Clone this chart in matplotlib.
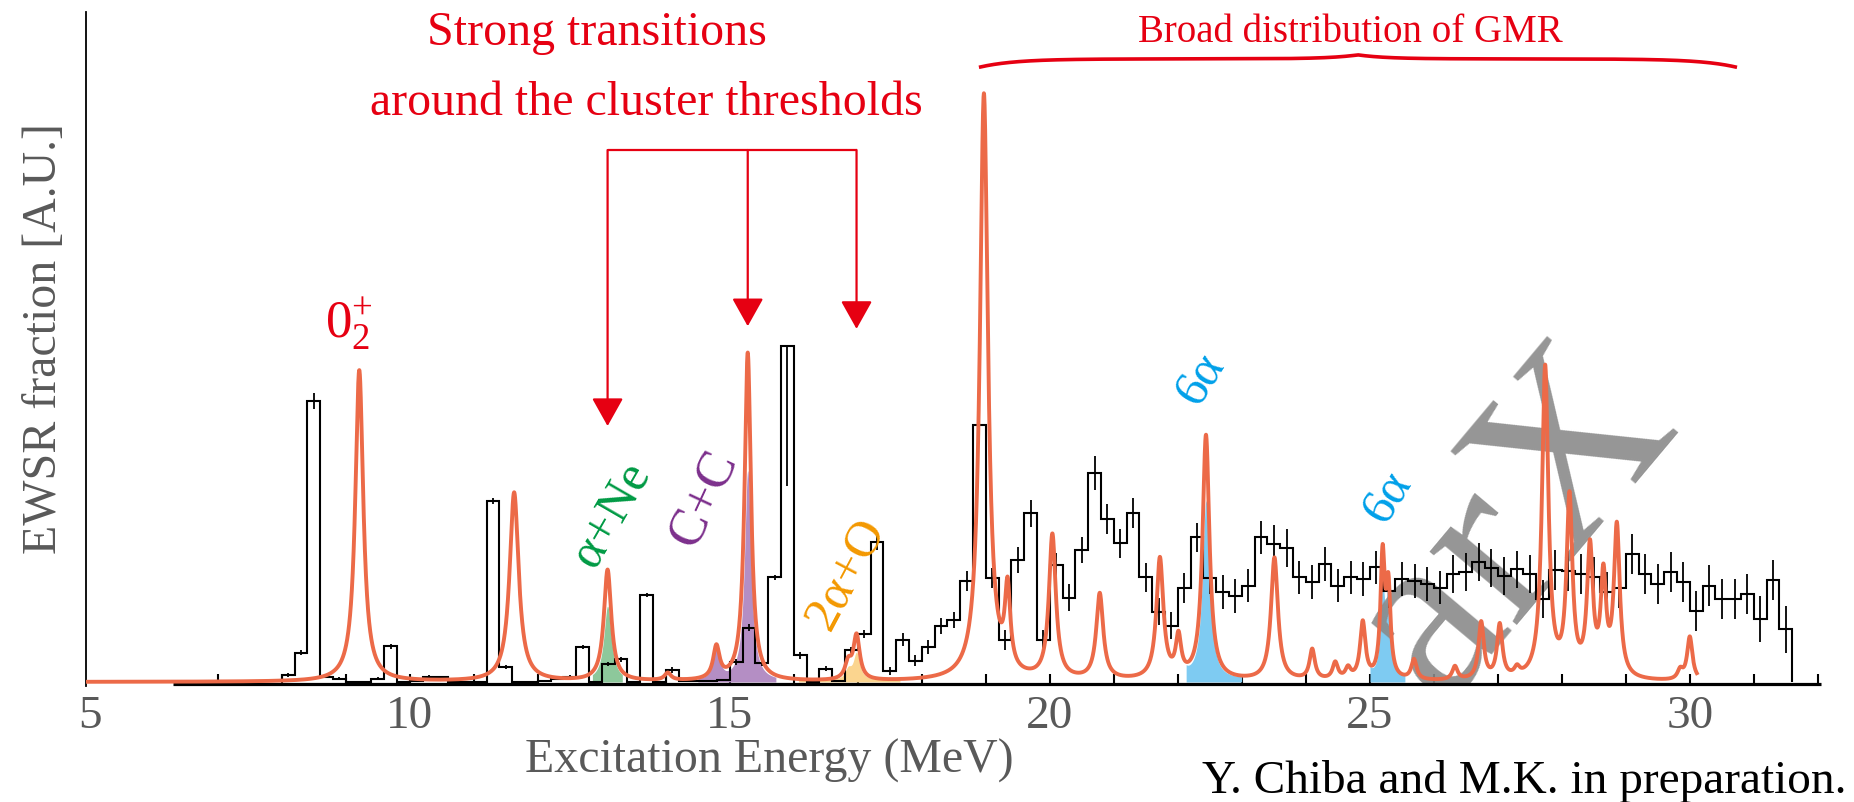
import numpy as np
import matplotlib
matplotlib.use("Agg")
import matplotlib.pyplot as plt

plt.rcParams['font.family'] = ['Liberation Serif', 'DejaVu Serif']
plt.rcParams['mathtext.fontset'] = 'stix'

# ---------------- experimental EWSR distribution (0.2 MeV bins) ----------------
exp_bin_start = 8.0
exp_bin_width = 0.2
exp_strength = [
    0.010, 0.044, 0.420, 0.008, 0.005,   # 8.0 - 9.0
    0.000, 0.000, 0.005, 0.053, 0.000,   # 9.0 - 10.0
    0.001, 0.008, 0.007, 0.000, 0.000,   # 10.0 - 11.0
    0.000, 0.270, 0.022, 0.000, 0.000,   # 11.0 - 12.0
    0.001, 0.004, 0.008, 0.052, 0.000,   # 12.0 - 13.0
    0.027, 0.034, 0.000, 0.130, 0.000,   # 13.0 - 14.0
    0.018, 0.002, 0.002, 0.002, 0.003,   # 14.0 - 15.0
    0.030, 0.081, 0.028, 0.156, 0.502,   # 15.0 - 16.0
    0.040, 0.000, 0.020, 0.002, 0.047,   # 16.0 - 17.0
    0.072, 0.209, 0.016, 0.063, 0.032,   # 17.0 - 18.0
    0.052, 0.084, 0.092, 0.151, 0.383,   # 18.0 - 19.0
    0.155, 0.062, 0.182, 0.252, 0.062,   # 19.0 - 20.0
    0.174, 0.126, 0.197, 0.312, 0.243,   # 20.0 - 21.0
    0.207, 0.252, 0.156, 0.105, 0.084,   # 21.0 - 22.0
    0.140, 0.216, 0.155, 0.134, 0.128,   # 22.0 - 23.0
    0.144, 0.216, 0.206, 0.200, 0.156,   # 23.0 - 24.0
    0.149, 0.176, 0.144, 0.156, 0.154,   # 24.0 - 25.0
    0.171, 0.136, 0.154, 0.151, 0.146,   # 25.0 - 26.0
    0.141, 0.161, 0.164, 0.179, 0.170,   # 26.0 - 27.0
    0.158, 0.168, 0.161, 0.124, 0.167,   # 27.0 - 28.0
    0.166, 0.161, 0.156, 0.134, 0.141,   # 28.0 - 29.0
    0.191, 0.161, 0.146, 0.164, 0.149,   # 29.0 - 30.0
    0.106, 0.144, 0.124, 0.124, 0.131,   # 30.0 - 31.0
    0.094, 0.152, 0.079,                 # 31.0 - 31.6
]
exp_error = [
    0.003, 0.004, 0.012, 0.002, 0.002,
    0.000, 0.000, 0.002, 0.004, 0.000,
    0.000, 0.002, 0.002, 0.000, 0.000,
    0.000, 0.005, 0.003, 0.000, 0.000,
    0.000, 0.001, 0.002, 0.003, 0.000,
    0.003, 0.004, 0.000, 0.003, 0.000,
    0.004, 0.000, 0.000, 0.000, 0.000,
    0.004, 0.005, 0.004, 0.004, 0.000,
    0.005, 0.000, 0.004, 0.000, 0.005,
    0.006, 0.012, 0.006, 0.010, 0.008,
    0.010, 0.012, 0.012, 0.015, 0.012,
    0.015, 0.015, 0.020, 0.020, 0.015,
    0.018, 0.020, 0.020, 0.026, 0.022,
    0.022, 0.022, 0.022, 0.020, 0.020,
    0.022, 0.022, 0.024, 0.025, 0.025,
    0.025, 0.025, 0.028, 0.028, 0.025,
    0.025, 0.025, 0.025, 0.025, 0.025,
    0.025, 0.025, 0.025, 0.025, 0.025,
    0.025, 0.028, 0.028, 0.028, 0.028,
    0.028, 0.028, 0.028, 0.028, 0.030,
    0.030, 0.030, 0.030, 0.030, 0.030,
    0.030, 0.030, 0.030, 0.030, 0.030,
    0.030, 0.030, 0.030, 0.030, 0.030,
    0.035, 0.030, 0.035,
]
# bins whose error bar is drawn downward only: {bin start energy: size}
exp_lower_only_error = {15.8: 0.21}

# ---------------- calculated strength: energy (MeV), height, half width ----------------
calc_energy = [9.21, 11.63, 13.09, 14.03, 14.79, 15.28, 16.85, 16.98,
               18.97, 19.34, 20.04, 20.78, 21.72, 22.01, 22.44,
               23.51, 24.10, 24.46, 24.66, 24.89, 25.20, 25.29, 25.69,
               26.33, 26.74, 27.03, 27.30, 27.74, 28.12, 28.44, 28.65,
               28.86, 29.85, 30.00]
calc_height = [0.465, 0.282, 0.166, 0.011, 0.048, 0.490, 0.024, 0.066,
               0.875, 0.120, 0.215, 0.128, 0.180, 0.058, 0.365,
               0.183, 0.045, 0.025, 0.016, 0.085, 0.180, 0.130, 0.030,
               0.020, 0.085, 0.080, 0.012, 0.465, 0.265, 0.190, 0.145,
               0.225, 0.014, 0.065]
calc_width = [0.075, 0.085, 0.070, 0.060, 0.060, 0.060, 0.060, 0.060,
              0.075, 0.050, 0.065, 0.065, 0.065, 0.050, 0.065,
              0.065, 0.050, 0.050, 0.050, 0.050, 0.040, 0.040, 0.050,
              0.050, 0.050, 0.050, 0.050, 0.060, 0.055, 0.055, 0.050,
              0.055, 0.050, 0.050]
calc_end = 30.11

# cluster components: (colour, window start, window end, {peak: removed fraction})
cluster_fills = [
    ("#8dc89b", 12.85, 13.32, {13.09: 0.33}),
    ("#b48ec4", 14.50, 15.72, {15.28: 0.36}),
    ("#fbd58f", 16.07, 17.66, {16.85: 0.40, 16.98: 0.40}),
    ("#7ecbf2", 22.13, 23.00, {22.44: 0.27}),
    ("#7ecbf2", 25.00, 25.55, {25.20: 0.30}),
]

RED = "#e60012"
ORANGE = "#ec6a48"
GREY = "#595959"

W, H = 1854, 803
fig = plt.figure(figsize=(W / 100, H / 100), dpi=100)


def fig_xy(x, y):
    """pixel position (from top-left) -> figure fraction"""
    return x / W, 1 - y / H


ax = fig.add_axes([86 / W, (H - 687) / H, 1735 / W, 674 / H])
x_min, x_max = 4.94, 32.05
ax.set_xlim(x_min, x_max)
ax.set_ylim(-0.006, 1.0)

# ---------------- calculated curve ----------------
E = np.linspace(x_min, calc_end, 9000)
E0 = np.array(calc_energy)[:, None]
h = np.array(calc_height)[:, None]
g = np.array(calc_width)[:, None]
components = h * g ** 2 / ((E[None, :] - E0) ** 2 + g ** 2)
total = components.sum(axis=0)

for color, lo, hi, removed in cluster_fills:
    part = total.copy()
    for e_peak, frac in removed.items():
        idx = calc_energy.index(e_peak)
        part -= frac * components[idx]
    mask = (E >= lo) & (E <= hi)
    ax.fill_between(E[mask], 0, part[mask], color=color, lw=0, zorder=2)

ax.plot(E, total, color=ORANGE, lw=2.8, zorder=6, solid_joinstyle="round")

# ---------------- experimental histogram ----------------
vals = np.array(exp_strength)
errs = np.array(exp_error)
edges = exp_bin_start + exp_bin_width * np.arange(len(vals) + 1)
centers = 0.5 * (edges[:-1] + edges[1:])
err_lo = errs.copy()
err_hi = errs.copy()
for e_bin, size in exp_lower_only_error.items():
    i = int(round((e_bin - exp_bin_start) / exp_bin_width))
    err_lo[i] = size
    err_hi[i] = 0.0
ax.stairs(vals, edges, color="black", lw=1.5, zorder=5)
has_err = (err_lo > 0) | (err_hi > 0)
ax.errorbar(centers[has_err], vals[has_err],
            yerr=[err_lo[has_err], err_hi[has_err]],
            fmt="none", ecolor="black", elinewidth=1.3, capsize=0, zorder=5)

# experimental energy axis
exp_axis_start = 6.3
ax.plot([exp_axis_start, x_max], [-0.0025, -0.0025], color="black", lw=2.3,
        zorder=4, solid_capstyle="butt", clip_on=False)

# ---------------- axes styling ----------------
for side in ("top", "right", "bottom"):
    ax.spines[side].set_visible(False)
ax.spines["left"].set_linewidth(1.3)
ax.set_yticks([])
ax.set_xticks([5, 10, 15, 20, 25, 30])
ax.set_xticks(np.arange(7, 33), minor=True)
ax.xaxis.remove_overlapping_locs = False
ax.tick_params(axis="x", which="major", length=0, labelsize=34,
               labelcolor=GREY, pad=6)
ax.tick_params(axis="x", which="minor", direction="in", length=9,
               width=1.5, color="black")

fig.text(*fig_xy(769, 773), "Excitation Energy (MeV)", fontsize=34.5,
         color=GREY, ha="center", va="baseline")
fig.text(*fig_xy(44, 339), "EWSR fraction [A.U.]", fontsize=34.5,
         color=GREY, ha="center", va="center", rotation=90)
fig.text(*fig_xy(1847, 793), "Y. Chiba and M.K. in preparation.",
         fontsize=34, color="black", ha="right", va="baseline")

# ---------------- watermark ----------------
ax.text(27.25, 0.235, "arX", fontsize=178, rotation=50, color="#8a8a8a",
        alpha=0.9, ha="center", va="center", zorder=3, clip_on=True)

# ---------------- annotations ----------------
ax.text(10.27, 0.952, "Strong transitions", fontsize=34.5, color=RED,
        ha="left", va="baseline")
ax.text(9.38, 0.848, "around the cluster thresholds", fontsize=34.5,
        color=RED, ha="left", va="baseline")

arrow_peaks = [13.09, 15.28, 16.98]
arrow_tips = [0.382, 0.531, 0.527]
bar_y = 0.794
ax.plot([arrow_peaks[0], arrow_peaks[-1]], [bar_y, bar_y], color=RED,
        lw=1.6, zorder=7, solid_capstyle="butt")
for xp, tip in zip(arrow_peaks, arrow_tips):
    ax.annotate("", xy=(xp, tip), xytext=(xp, bar_y),
                arrowprops=dict(arrowstyle="-|>,head_length=1.25,head_width=0.7",
                                color=RED, lw=1.6, shrinkA=0, shrinkB=0,
                                mutation_scale=14), zorder=7)

# second 0+ state
ax.text(9.05, 0.535, r"$\mathregular{0^{+}_{2}}$", fontsize=38, color=RED,
        ha="center", va="center")

# cluster-channel labels: text, colour, energy, height, size, angle
cluster_labels = [
    ("α+Ne", "#009a44", 13.14, 0.251, 36, 60),
    ("C+C", "#7c2f8c", 14.60, 0.276, 38, 65),
    ("2α+O", "#f39800", 16.82, 0.163, 37, 62),
    ("6α", "#00a0e9", 22.35, 0.455, 36, 58),
    ("6α", "#00a0e9", 25.28, 0.278, 36, 58),
]
for txt, col, ex, ey, size, angle in cluster_labels:
    ax.text(ex, ey, txt, fontsize=size, color=col, rotation=angle,
            ha="center", va="center", zorder=8)

# brace over the giant monopole region
brace_lo, brace_hi = 18.92, 30.71
brace_base, brace_rise, brace_tip = 0.918, 0.012, 0.006
bx = np.linspace(brace_lo, brace_hi, 1200)
half = (brace_hi - brace_lo) / 2
u = np.abs(bx - (brace_lo + brace_hi) / 2)
by = (brace_base + brace_rise * (1 - np.exp(-(half - u) / 0.55))
      + brace_tip * np.exp(-u / 0.45))
ax.plot(bx, by, color=RED, lw=2.6, zorder=7, clip_on=False)
ax.text(24.7, 0.957, "Broad distribution of GMR", fontsize=28, color=RED,
        ha="center", va="baseline")

fig.savefig("out.png", dpi=100)
